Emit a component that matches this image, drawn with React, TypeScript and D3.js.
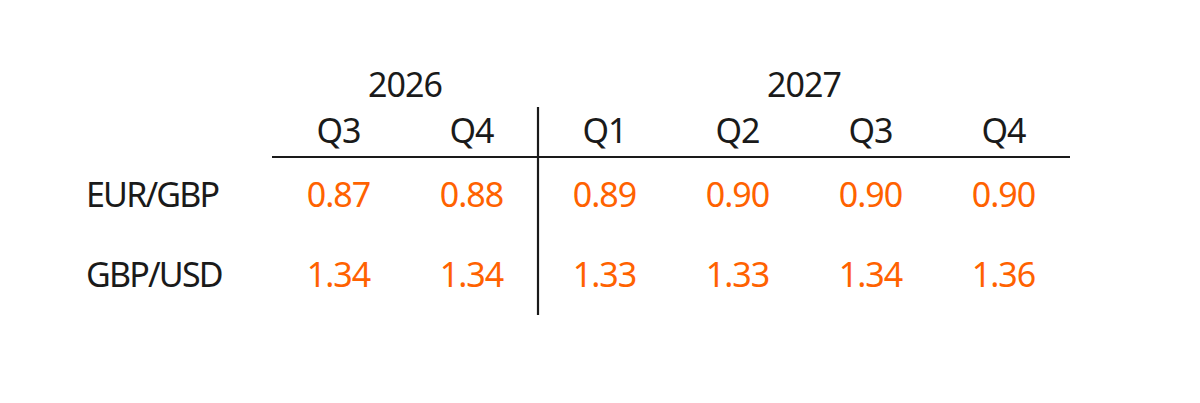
import React, { useEffect, useRef } from "react";
import * as d3 from "d3";

const years = ["2026", "2027"];
const yearSpans = [2, 4]; // number of quarter columns per year
const quarters = ["Q3", "Q4", "Q1", "Q2", "Q3", "Q4"];
const pairs = ["EUR/GBP", "GBP/USD"];
const eurGbp = [0.87, 0.88, 0.89, 0.9, 0.9, 0.9];
const gbpUsd = [1.34, 1.34, 1.33, 1.33, 1.34, 1.36];

const WIDTH = 1200;
const HEIGHT = 403;
const FONT = "'Noto Sans', sans-serif";
const SIZE = "34px";
const ORANGE = "#ff6200";
const INK = "#1a1a1a";

export default function App() {
  const svgRef = useRef<SVGSVGElement>(null);

  useEffect(() => {
    if (!svgRef.current) return;
    const svg = d3.select(svgRef.current);
    svg.selectAll("*").remove();

    const x = d3
      .scaleBand<number>()
      .domain(d3.range(quarters.length))
      .range([272, 1070]);
    const cx = (i: number) => (x(i) || 0) + x.bandwidth() / 2;

    const rows = [eurGbp, gbpUsd];
    const y = d3.scalePoint<number>().domain([0, 1]).range([207, 287]);

    const txt = (sel: d3.Selection<SVGTextElement, any, any, any>, fill: string, ls = -1) =>
      sel
        .style("font-family", FONT)
        .style("font-size", SIZE)
        .style("letter-spacing", `${ls}px`)
        .style("fill", fill);

    // year headers, centred over their quarters
    let start = 0;
    years.forEach((yr, k) => {
      const end = start + yearSpans[k] - 1;
      svg
        .append("text")
        .attr("x", (cx(start) + cx(end)) / 2)
        .attr("y", 97)
        .attr("text-anchor", "middle")
        .call((s) => txt(s, INK))
        .text(yr);
      start = end + 1;
    });

    svg
      .selectAll(".q")
      .data(quarters)
      .enter()
      .append("text")
      .attr("x", (_d, i) => cx(i))
      .attr("y", 143)
      .attr("text-anchor", "middle")
      .call((s) => txt(s, INK))
      .text((d) => d);

    // rules
    svg
      .append("line")
      .attr("x1", x.range()[0])
      .attr("x2", x.range()[1])
      .attr("y1", 157)
      .attr("y2", 157)
      .attr("stroke", INK)
      .attr("stroke-width", 2.2);
    const split = x(yearSpans[0]) || 0;
    svg
      .append("line")
      .attr("x1", split)
      .attr("x2", split)
      .attr("y1", 107)
      .attr("y2", 315)
      .attr("stroke", INK)
      .attr("stroke-width", 2.2);

    rows.forEach((vals, r) => {
      svg
        .append("text")
        .attr("x", 86)
        .attr("y", y(r) || 0)
        .call((s) => txt(s, INK, -1.8))
        .text(pairs[r]);
      svg
        .selectAll(`.v${r}`)
        .data(vals)
        .enter()
        .append("text")
        .attr("x", (_d, i) => cx(i))
        .attr("y", y(r) || 0)
        .attr("text-anchor", "middle")
        .call((s) => txt(s, ORANGE))
        .text((d) => d3.format(".2f")(d));
    });
  }, []);

  return (
    <svg
      ref={svgRef}
      width={WIDTH}
      height={HEIGHT}
      style={{ position: "absolute", left: 0, top: 0, background: "#fff" }}
    />
  );
}
